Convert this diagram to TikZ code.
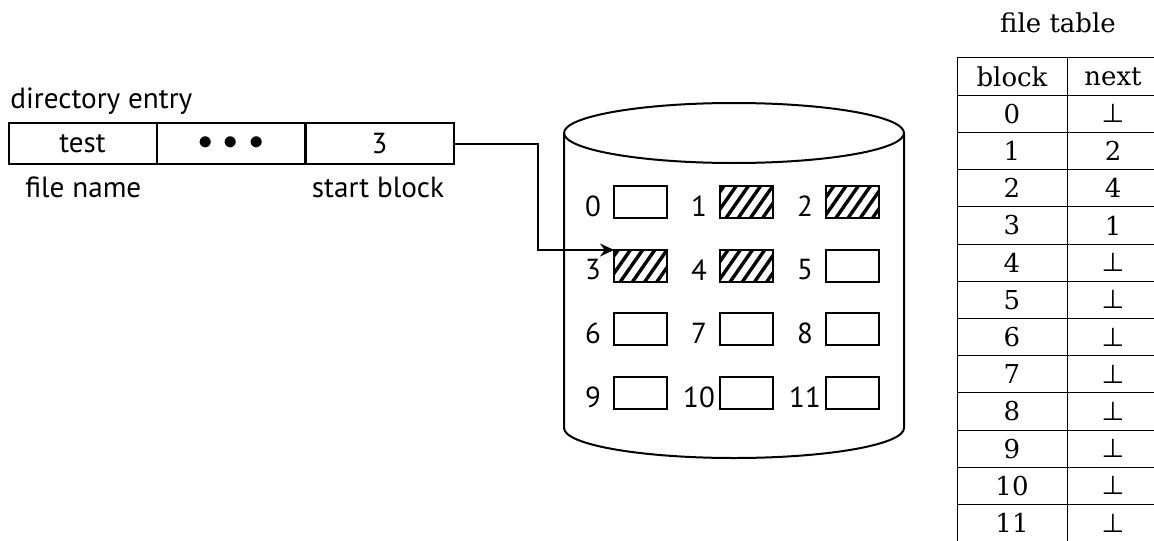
\documentclass[tikz,border=0pt]{standalone}
\usepackage{fontspec}
\newfontfamily\lblfont{PT Sans}
\newfontfamily\tabfont{DejaVu Serif}
\newfontfamily\symfont{DejaVu Sans}
\usetikzlibrary{arrows.meta,patterns.meta,calc}
\newcommand{\bottomsym}{{\symfont ⊥}}
\tikzset{
  thickline/.style={line width=1pt},
  blk/.style={draw, line width=0.9pt, minimum width=26.5pt, minimum height=16pt, inner sep=0pt, outer sep=0pt},
  hatched/.style={blk, pattern={Lines[angle=55,distance=5pt,line width=1.7pt]}},
  blklabel/.style={font=\lblfont\fontsize{14.5pt}{16pt}\selectfont, inner sep=0pt},
  cell/.style={draw, line width=1pt, minimum width=74pt, minimum height=20.5pt, inner sep=0pt, outer sep=0pt, font=\lblfont\fontsize{14.5pt}{16pt}\selectfont},
  sanstext/.style={font=\lblfont\fontsize{14.6pt}{16pt}\selectfont, inner sep=0pt},
  tabtext/.style={font=\tabfont\fontsize{13pt}{15pt}\selectfont, inner sep=0pt},
  tabline/.style={line width=0.5pt},
  link/.style={line width=1pt, -{Stealth[length=7pt,width=6.5pt,inset=2.3pt]}}
}
\begin{document}
\begin{tikzpicture}[x=0.5pt,y=-0.5pt]
\useasboundingbox (0,0) rectangle (1154,540);
% directory entry
\node[sanstext, anchor=base west] (dirlbl) at (10,108) {directory entry};
\node[cell] (c1) at (82.5,143.5) {test};
\node[cell] (c2) at (231,143.5) {$\bullet\,\bullet\,\bullet$};
\node[cell] (c3) at (379.5,143.5) {3};
\node[sanstext, anchor=base west] (fnlbl) at (25,197) {file name};
\node[sanstext, anchor=base] (sblbl) at (378,197) {start block};
% cylinder
\draw[thickline] (734,133) ellipse [x radius=85pt, y radius=15pt];
\draw[thickline] (564,133) -- (564,428) arc[start angle=180, end angle=360, x radius=85pt, y radius=15pt] -- (904,133);
% blocks
\foreach \i/\cx/\cy/\sty in {0/640.5/202/blk, 1/746.5/202/hatched, 2/852.5/202/hatched,
  3/640.5/266/hatched, 4/746.5/266/hatched, 5/852.5/266/blk,
  6/640.5/329/blk, 7/746.5/329/blk, 8/852.5/329/blk,
  9/640.5/393/blk, 10/746.5/393/blk, 11/852.5/393/blk}{
  \node[\sty] (b\i) at (\cx,\cy) {};
  \node[blklabel] (l\i) at ($(\cx,\cy)+(-47.5,4)$) {\i};
}
% pointer
\coordinate (bend) at ($(c3.east)+(84,0)$);
\draw[link] (c3.east) -- (bend) |- (b3.north west);
% file table
\node[tabtext, anchor=base] (ftitle) at (1058,33) {file table};
\foreach \k in {0,...,13}{
  \draw[tabline] (957,{58+37.2*\k}) -- (1160,{58+37.2*\k});
}
\draw[tabline] (957,58) -- (957,545);
\draw[tabline] (1067,58) -- (1067,545);
\draw[tabline] (1159,58) -- (1159,545);
\node[tabtext] (hb) at (1012,{58+37.2*0.5}) {block};
\node[tabtext] (hn) at (1113,{58+37.2*0.5}) {next};
\foreach \r/\n in {0/\bottomsym,1/2,2/4,3/1,4/\bottomsym,5/\bottomsym,6/\bottomsym,7/\bottomsym,8/\bottomsym,9/\bottomsym,10/\bottomsym,11/\bottomsym}{
  \node[tabtext] (tb\r) at (1012,{58+37.2*(\r+1.5)}) {\r};
  \node[tabtext] (tn\r) at (1113,{58+37.2*(\r+1.5)}) {\n};
}
\end{tikzpicture}
\end{document}
